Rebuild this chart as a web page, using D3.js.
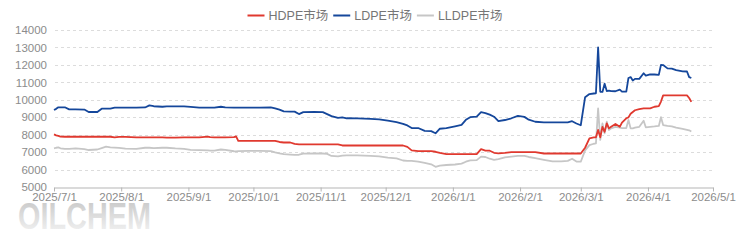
<!DOCTYPE html>
<html>
<head>
<meta charset="utf-8">
<script src="https://cdn.jsdelivr.net/npm/d3@7"></script>
<style>
  body { margin: 0; background: #fff; }
  svg { display: block; font-family: "Liberation Sans", "Noto Sans CJK SC", sans-serif; }
</style>
</head>
<body>
<svg width="750" height="245"></svg>
<script>
    // data
    var dates = ["2025-07-01","2025-07-02","2025-07-03","2025-07-04","2025-07-06","2025-07-08","2025-07-11","2025-07-15","2025-07-17","2025-07-21",
        "2025-07-23","2025-07-25","2025-07-27","2025-07-29","2025-07-31","2025-08-03","2025-08-08","2025-08-12","2025-08-14","2025-08-16",
        "2025-08-20","2025-08-22","2025-08-26","2025-08-30","2025-09-02","2025-09-06","2025-09-10","2025-09-11","2025-09-13","2025-09-16",
        "2025-09-18","2025-09-22","2025-09-23","2025-09-24","2025-09-29","2025-10-04","2025-10-09","2025-10-11","2025-10-13","2025-10-15",
        "2025-10-18","2025-10-20","2025-10-22","2025-10-24","2025-10-29","2025-11-02","2025-11-04","2025-11-06","2025-11-09","2025-11-11",
        "2025-11-13","2025-11-18","2025-11-24","2025-11-28","2025-12-02","2025-12-06","2025-12-09","2025-12-11","2025-12-13","2025-12-16",
        "2025-12-19","2025-12-22","2025-12-24","2025-12-26","2025-12-29","2026-01-02","2026-01-05","2026-01-07","2026-01-09","2026-01-12",
        "2026-01-14","2026-01-16","2026-01-18","2026-01-20","2026-01-22","2026-01-25","2026-01-28","2026-01-31","2026-02-03","2026-02-05",
        "2026-02-08","2026-02-12","2026-02-16","2026-02-20","2026-02-23","2026-02-25","2026-02-27","2026-03-01","2026-03-03","2026-03-05",
        "2026-03-07","2026-03-08","2026-03-09","2026-03-10","2026-03-11","2026-03-12","2026-03-13","2026-03-14","2026-03-15","2026-03-17",
        "2026-03-19","2026-03-20","2026-03-22","2026-03-23","2026-03-24","2026-03-25","2026-03-26","2026-03-28","2026-03-30","2026-03-31",
        "2026-04-02","2026-04-04","2026-04-06","2026-04-07","2026-04-08","2026-04-10","2026-04-12","2026-04-14","2026-04-17","2026-04-19",
        "2026-04-20","2026-04-21"];

    var hdpe = [8017,7960,7930,7890,7880,7880,7880,7880,7880,7880,
        7880,7880,7880,7850,7870,7870,7850,7850,7850,7850,
        7840,7830,7830,7840,7850,7850,7890,7860,7850,7850,
        7850,7860,7900,7640,7640,7640,7640,7640,7580,7550,
        7550,7470,7440,7440,7440,7440,7440,7440,7440,7380,
        7380,7380,7380,7380,7380,7380,7380,7300,7100,7060,
        7060,7060,7020,6960,6890,6890,6890,6890,6890,6890,
        7170,7090,7080,6960,6930,6960,7000,7000,7000,7000,
        7000,6920,6920,6920,6920,6920,6920,6920,7250,7790,
        7850,7850,8270,7850,8450,8160,8650,8360,8450,8610,
        8450,8690,8940,8990,9200,9300,9400,9470,9510,9510,
        9510,9600,9640,9900,10250,10250,10250,10250,10250,10250,
        10100,9880];

    var ldpe = [9413,9480,9570,9570,9570,9450,9450,9440,9300,9300,
        9490,9490,9490,9545,9545,9545,9545,9560,9680,9630,
        9600,9620,9620,9620,9590,9545,9545,9545,9550,9600,
        9560,9550,9550,9550,9545,9545,9570,9510,9440,9340,
        9320,9320,9180,9290,9300,9290,9180,9060,8960,8990,
        8940,8930,8910,8880,8800,8720,8620,8530,8380,8380,
        8220,8200,8080,8340,8380,8480,8560,8850,9000,9030,
        9290,9240,9150,9030,8780,8840,8940,9080,9020,8860,
        8740,8710,8710,8700,8700,8770,8640,8540,10150,10330,
        10360,10370,13000,10460,10450,10920,10500,10520,10500,10490,
        10580,10470,10470,11250,11300,11100,11200,11200,11520,11380,
        11460,11450,11430,12000,11990,11800,11790,11700,11630,11620,
        11300,11250];

    var lldpe = [7217,7250,7270,7220,7180,7190,7210,7170,7120,7150,
        7230,7310,7270,7260,7240,7200,7190,7250,7250,7230,
        7250,7250,7210,7190,7130,7110,7100,7090,7080,7150,
        7130,7050,7040,7060,7070,7070,7060,6990,6930,6890,
        6860,6840,6850,6910,6920,6920,6900,6780,6760,6800,
        6810,6810,6780,6760,6680,6640,6520,6500,6500,6460,
        6380,6300,6160,6230,6260,6290,6340,6450,6530,6540,
        6740,6720,6620,6560,6600,6700,6740,6780,6780,6720,
        6650,6560,6470,6470,6500,6620,6460,6450,7100,7400,
        7480,7500,9500,7700,8650,8075,8740,8270,8360,8450,
        8400,8380,8380,8840,8360,8360,8400,8450,8800,8420,
        8450,8470,8500,9000,8550,8500,8480,8400,8330,8280,
        8250,8180];

    var seriesNames = ["HDPE市场", "LDPE市场", "LLDPE市场"];
    var seriesColors = ["#e0392f", "#15479b", "#c6c6c6"];
    var yTicks = [5000, 6000, 7000, 8000, 9000, 10000, 11000, 12000, 13000, 14000];
    var xTickDates = ["2025-07-01","2025-08-01","2025-09-01","2025-10-01","2025-11-01","2025-12-01",
        "2026-01-01","2026-02-01","2026-03-01","2026-04-01","2026-05-01"];

    var svg = d3.select("svg");
    var parse = d3.timeParse("%Y-%m-%d");
    var fmt = function(d) { return d.getFullYear() + "/" + (d.getMonth() + 1) + "/" + d.getDate(); };

    var x = d3.scaleTime()
        .domain([parse(xTickDates[0]), parse(xTickDates[xTickDates.length - 1])])
        .range([54, 713]);
    var y = d3.scaleLinear().domain([5000, 14000]).range([187, 30]);

    // watermark
    var grad = svg.append("defs").append("linearGradient")
        .attr("id", "wm").attr("x1", 0).attr("y1", 0).attr("x2", 0).attr("y2", 1);
    grad.append("stop").attr("offset", "0%").attr("stop-color", "#c4c4c4");
    grad.append("stop").attr("offset", "100%").attr("stop-color", "#f7f7f7");
    svg.append("text")
        .attr("x", 18).attr("y", 229)
        .attr("textLength", 133)
        .attr("lengthAdjust", "spacingAndGlyphs")
        .style("font-size", "36px")
        .style("font-weight", "bold")
        .attr("fill", "url(#wm)")
        .text("OILCHEM");

    // grid
    svg.append("g").selectAll("line")
        .data(yTicks.slice(1))
        .enter().append("line")
        .attr("x1", 55).attr("x2", 715)
        .attr("y1", function(d) { return Math.round(y(d)) + 0.5; })
        .attr("y2", function(d) { return Math.round(y(d)) + 0.5; })
        .attr("stroke", "#dcdcdc")
        .attr("stroke-dasharray", "3,3");

    // y axis labels
    svg.append("g").selectAll("text")
        .data(yTicks)
        .enter().append("text")
        .attr("x", 47)
        .attr("y", function(d) { return y(d) + 4.2; })
        .attr("text-anchor", "end")
        .attr("fill", "#8c8c8c")
        .style("font-size", "11.5px")
        .text(function(d) { return d; });

    // x axis
    var xAxis = svg.append("g")
        .attr("transform", "translate(0," + (Math.round(y(5000)) + 0.5) + ")")
        .call(d3.axisBottom(x)
            .tickValues(xTickDates.map(parse))
            .tickSize(4)
            .tickSizeOuter(0)
            .tickFormat(fmt));
    xAxis.select(".domain").attr("stroke", "#b5b5b5");
    xAxis.selectAll(".tick line").attr("stroke", "#b5b5b5");
    xAxis.selectAll(".tick text")
        .attr("fill", "#8c8c8c")
        .attr("dy", "0.6em")
        .style("font-size", "11.5px")
        .style("font-family", "'Liberation Sans', sans-serif");

    // lines
    var seriesData = [hdpe, ldpe, lldpe];
    var line = d3.line()
        .x(function(d, i) { return x(parse(dates[i])); })
        .y(function(d) { return y(d); });

    // grey first, then red, blue on top
    [2, 0, 1].forEach(function(k) {
        svg.append("path")
            .datum(seriesData[k])
            .attr("fill", "none")
            .attr("stroke", seriesColors[k])
            .attr("stroke-width", 1.8)
            .attr("stroke-linejoin", "round")
            .attr("d", line);
    });

    // legend, centred
    var legend = svg.append("g");
    var lx = 0;
    seriesNames.forEach(function(name, i) {
        var item = legend.append("g").attr("transform", "translate(" + lx + ",0)");
        item.append("line")
            .attr("x1", 0).attr("x2", 17)
            .attr("y1", 15.5).attr("y2", 15.5)
            .attr("stroke", seriesColors[i])
            .attr("stroke-width", 2);
        var t = item.append("text")
            .attr("x", 21).attr("y", 20)
            .attr("fill", "#757575")
            .style("font-family", "'Liberation Sans Narrow', 'Liberation Sans', 'Noto Sans CJK SC', sans-serif")
            .style("font-size", "12.5px")
            .text(name);
        lx += 21 + t.node().getComputedTextLength() + 5;
    });
    legend.attr("transform", "translate(" + (375 - (lx - 5) / 2) + ",0)");
</script>
</body>
</html>
